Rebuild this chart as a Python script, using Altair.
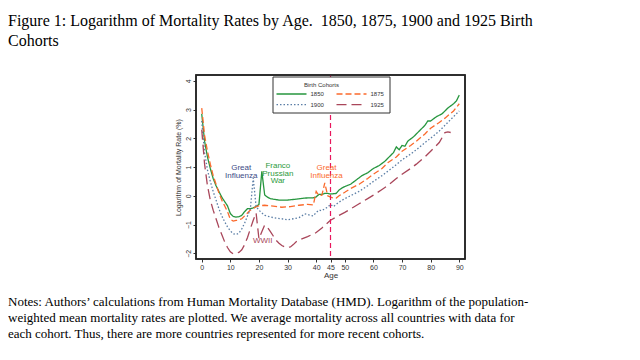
import altair as alt
import pandas as pd

# ---- data ----
age_1850 = [0,1,2,3,4,5,6,7,8,9,10,11,12,13,14,15,16,17,18,19,20,21,22,23,24,25,27,30,33,36,39,40,41,42,43,44,45,46,47,48,49,50,52,54,56,58,60,62,64,65,66,67,68,69,70,71,72,74,76,78,79,80,82,84,86,88,89,90]
val_1850 = [2.85,1.9,1.35,0.95,0.6,0.35,0.15,-0.05,-0.2,-0.35,-0.62,-0.72,-0.74,-0.73,-0.68,-0.55,-0.45,-0.45,-0.42,-0.38,-0.3,0.85,0.03,-0.05,-0.1,-0.12,-0.15,-0.15,-0.12,-0.08,-0.07,-0.04,0.05,0.05,0.08,0.08,0.06,0.07,0.08,0.2,0.27,0.32,0.4,0.55,0.7,0.8,0.95,1.05,1.2,1.3,1.4,1.5,1.7,1.6,1.75,1.72,1.9,2.05,2.25,2.45,2.6,2.6,2.75,2.85,3.05,3.2,3.3,3.5]

age_1875 = [0,1,2,3,4,5,6,7,8,9,10,11,12,13,14,15,16,17,18,19,20,22,25,28,31,34,37,39,40,41,42,43,44,45,46,47,48,50,52,55,58,60,63,65,68,70,73,75,78,80,83,85,88,90]
val_1875 = [3.05,2.1,1.55,1.1,0.7,0.4,0.1,-0.15,-0.35,-0.55,-0.82,-0.88,-0.86,-0.84,-0.8,-0.7,-0.6,-0.5,-0.45,-0.38,-0.35,-0.33,-0.36,-0.4,-0.38,-0.33,-0.3,-0.32,0.15,0.0,0.02,0.45,0.0,-0.05,-0.08,-0.08,0.0,0.12,0.25,0.4,0.6,0.75,0.95,1.15,1.35,1.55,1.75,1.9,2.15,2.35,2.55,2.7,2.95,3.2]

age_1900 = [0,1,2,3,4,5,6,7,8,9,10,11,12,13,14,15,16,17,18,19,20,21,22,24,26,28,30,32,34,35,36,37,38,39,40,41,42,43,44,45,46,47,48,50,52,55,58,60,63,65,68,70,73,75,78,80,83,85,88,90]
val_1900 = [2.6,1.5,0.9,0.5,0.15,-0.15,-0.45,-0.7,-0.9,-1.08,-1.22,-1.32,-1.35,-1.3,-1.15,-0.95,-0.7,-0.45,0.62,-0.38,-0.5,-0.6,-0.68,-0.74,-0.78,-0.8,-0.84,-0.8,-0.76,-0.7,-0.63,-0.65,-0.68,-0.7,-0.58,-0.5,-0.52,-0.45,-0.4,-0.3,-0.38,-0.3,-0.22,-0.1,0.0,0.15,0.35,0.5,0.7,0.85,1.08,1.25,1.45,1.6,1.85,2.0,2.25,2.45,2.75,2.95]

age_1925 = [0,1,2,3,4,5,6,7,8,9,10,11,12,13,14,15,16,17,18,19,20,21,22,23,24,25,26,27,28,29,30,31,32,33,35,37,40,42,45,48,50,53,55,58,60,63,65,68,70,73,75,78,80,83,85,86,87]
val_1925 = [2.3,1.1,0.35,-0.15,-0.5,-0.8,-1.1,-1.35,-1.6,-1.8,-1.95,-2.02,-2.0,-1.97,-1.88,-1.7,-1.45,-1.15,-0.85,-0.6,-1.5,-1.25,-1.02,-1.1,-1.25,-1.4,-1.55,-1.65,-1.73,-1.78,-1.8,-1.78,-1.7,-1.6,-1.5,-1.42,-1.28,-1.12,-0.85,-0.68,-0.58,-0.4,-0.28,-0.1,0.02,0.22,0.35,0.6,0.75,0.95,1.1,1.35,1.55,1.85,2.2,2.22,2.2]

cohorts = ["1850", "1875", "1900", "1925"]
cohort_colors = ["#27963f", "#fb6a2c", "#5b7ea6", "#a9465a"]
cohort_dashes = [[1, 0], [6, 3], [1.5, 2], [10, 5]]
legend_title = "Birth Cohorts"

x_ticks = [0, 10, 20, 30, 40, 45, 50, 60, 70, 80, 90]
y_ticks = [-2, -1, 0, 1, 2, 3, 4]
event_age = [45]

ann_text = ["Great\nInfluenza", "Franco\nPrussian\nWar", "Great\nInfluenza", "WWII"]
ann_age = [13.8, 26.6, 43.6, 21.3]
ann_val = [0.95, 1.02, 0.95, -1.57]
ann_color = ["#3c4b85", "#2b9a3c", "#fb6a2c", "#a9465a"]

title_lines = ["Figure 1: Logarithm of Mortality Rates by Age.\u00a0 1850, 1875, 1900 and 1925 Birth",
               "Cohorts"]
note_lines = ["Notes: Authors\u2019 calculations from Human Mortality Database (HMD). Logarithm of the population-",
              "weighted mean mortality rates are plotted. We average mortality across all countries with data for",
              "each cohort. Thus, there are more countries represented for more recent cohorts."]

# ---- build tables ----
rows = []
for c, ages, vals in [("1850", age_1850, val_1850), ("1875", age_1875, val_1875),
                      ("1900", age_1900, val_1900), ("1925", age_1925, val_1925)]:
    for a, v in zip(ages, vals):
        rows.append({"cohort": c, "age": a, "val": v})
df = pd.DataFrame(rows)

W, H = 269, 184
PL, PT = 188, 67
SANS = "Liberation Sans"
SERIF = "Liberation Serif"

xscale = alt.Scale(domain=[-2, 92], nice=False, zero=False)
yscale = alt.Scale(domain=[-2.2, 4.2], nice=False, zero=False)

x_axis = alt.Axis(values=x_ticks, title="Age", grid=False, labelFontSize=7,
                  titleFontSize=8, titleFontWeight="normal", labelFont=SANS,
                  titleFont=SANS, tickSize=3, titlePadding=1, labelOverlap=False,
                  labelPadding=1, domain=False, labelColor="#333", titleColor="#333",
                  tickColor="#333")
y_axis = alt.Axis(values=y_ticks, title="Logarithm of Mortality Rate (%)", grid=False,
                  labelFontSize=7, titleFontSize=7, titleFontWeight="normal",
                  labelAngle=270, labelAlign="center", labelBaseline="bottom",
                  labelFont=SANS, titleFont=SANS, labelOverlap=False,
                  tickSize=3, labelPadding=2, titlePadding=3, domain=False,
                  labelColor="#333", titleColor="#333", tickColor="#333")

lines = alt.Chart(df).mark_line(strokeWidth=1.3).encode(
    x=alt.X("age:Q", scale=xscale, axis=x_axis),
    y=alt.Y("val:Q", scale=yscale, axis=y_axis),
    color=alt.Color("cohort:N", scale=alt.Scale(domain=cohorts, range=cohort_colors), legend=None),
    strokeDash=alt.StrokeDash("cohort:N", scale=alt.Scale(domain=cohorts, range=cohort_dashes), legend=None),
    order="age:Q",
)

vline = alt.Chart(pd.DataFrame({"age": event_age})).mark_rule(
    color="#e8175d", strokeWidth=1.2, strokeDash=[5, 3]).encode(
    x=alt.X("age:Q", scale=xscale, axis=x_axis))

ann = alt.Chart(pd.DataFrame({"t": ann_text, "age": ann_age, "val": ann_val, "c": ann_color})).mark_text(
    font=SANS, fontSize=8, lineBreak="\n", lineHeight=7.5, baseline="middle", align="center"
).encode(x=alt.X("age:Q", scale=xscale, axis=x_axis), y=alt.Y("val:Q", scale=yscale, axis=y_axis),
         text="t:N", color=alt.Color("c:N", scale=None))

# ---- legend box and frame (layout in pixels relative to the plot area) ----
one = pd.DataFrame({"k": [0]})
leg_layers = [
    alt.Chart(one).mark_rect(fill="white", stroke="#333333", strokeWidth=1).encode(
        x=alt.value(77), x2=alt.value(194), y=alt.value(2), y2=alt.value(38)),
    alt.Chart(pd.DataFrame({"t": [legend_title]})).mark_text(
        font=SANS, fontSize=6, color="#333", align="center", baseline="middle").encode(
        x=alt.value(125.5), y=alt.value(9.5), text="t:N"),
]
for i, c in enumerate(cohorts):
    col, row = i % 2, i // 2
    lx = 80.5 + 60 * col
    ly = 19 + 10.7 * row
    leg_layers.append(alt.Chart(one).mark_rule(
        color=cohort_colors[i], strokeDash=cohort_dashes[i], strokeWidth=1.3).encode(
        x=alt.value(lx), x2=alt.value(lx + 30), y=alt.value(ly)))
    leg_layers.append(alt.Chart(pd.DataFrame({"t": [c]})).mark_text(
        font=SANS, fontSize=6, color="#333", align="left", baseline="middle").encode(
        x=alt.value(lx + 34), y=alt.value(ly), text="t:N"))

frame = alt.Chart(one).mark_rect(fillOpacity=0, stroke="#222222", strokeWidth=1.5).encode(
    x=alt.value(0), x2=alt.value(W), y=alt.value(0), y2=alt.value(H))

txt_layers = []
for i, line in enumerate(title_lines):
    txt_layers.append(alt.Chart(pd.DataFrame({"t": [line]})).mark_text(
        font=SERIF, fontSize=16, align="left", baseline="alphabetic", color="black"
    ).encode(x=alt.value(-PL), y=alt.value(26 - 8 - PT + 20 * i), text="t:N"))
for i, line in enumerate(note_lines):
    txt_layers.append(alt.Chart(pd.DataFrame({"t": [line]})).mark_text(
        font=SERIF, fontSize=13, align="left", baseline="alphabetic", color="black"
    ).encode(x=alt.value(-PL), y=alt.value(306 - 8 - PT + 16 * i), text="t:N"))

chart = alt.layer(lines, vline, ann, *leg_layers, frame, *txt_layers).properties(
    width=W, height=H, background="white",
    autosize=alt.AutoSizeParams(type="none"),
    padding={"left": PL, "top": PT, "right": 624 - PL - W, "bottom": 344 - PT - H},
).configure_view(stroke="#222222", strokeWidth=1.5).configure_axis(labelOverlap=False)

chart.save("out.html", embed_options={"renderer": "svg", "actions": False})
